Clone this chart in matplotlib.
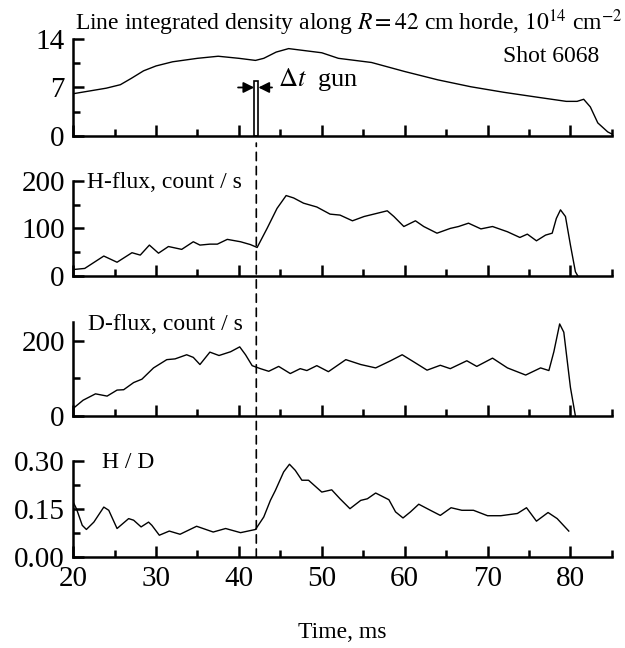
import numpy as np
import matplotlib
matplotlib.use("Agg")
import matplotlib.pyplot as plt
from matplotlib.patches import Rectangle, ConnectionPatch
from matplotlib.ticker import MultipleLocator

plt.rcParams['font.family'] = ['Liberation Serif', 'DejaVu Serif']
plt.rcParams['mathtext.fontset'] = 'stix'

# line integrated density, 1e14 cm^-2
t_dens = [20, 22, 24, 25.7, 27, 28.5, 30, 32, 35, 37.5, 40, 42, 43, 44.5, 46, 48,
          50, 52, 56, 60, 64, 68, 72, 76, 79.5, 80.8, 81.6, 82.4, 83.3, 84.5, 85]
dens = [6.1, 6.5, 6.9, 7.4, 8.3, 9.4, 10.1, 10.7, 11.2, 11.5, 11.2, 10.9, 11.2,
        12.1, 12.6, 12.3, 12.0, 11.2, 10.6, 9.3, 8.1, 7.1, 6.3, 5.6, 5.0, 5.0, 5.3,
        4.2, 1.9, 0.6, 0.3]

# H-flux, count/s
t_h = [20.2, 21.4, 23.7, 25.3, 27.1, 28.1, 29.2, 30.3, 31.5, 33.1, 34.5, 35.3, 36.5,
       37.4, 38.6, 40.2, 41.4, 42.2, 43.4, 44.6, 45.7, 46.6, 47.8, 49.4, 51.0, 52.2,
       53.7, 55.1, 57.9, 58.7, 59.9, 61.3, 62.3, 63.9, 65.5, 66.5, 67.7, 69.2, 70.6,
       72.4, 73.9, 74.8, 75.9, 77.0, 77.8, 78.3, 78.8, 79.4, 80.0, 80.6, 80.9]
h_flux = [14, 16, 42, 29, 49, 44, 65, 48, 62, 56, 72, 65, 67, 67, 77, 72, 66, 60,
          100, 142, 169, 164, 153, 145, 130, 128, 116, 125, 137, 125, 104, 116, 104,
          90, 100, 104, 111, 99, 104, 93, 81, 88, 74, 86, 90, 121, 139, 125, 65, 9, 0]

# D-flux, count/s
t_d = [20.0, 21.2, 22.7, 24.1, 25.3, 26.1, 27.3, 28.3, 29.7, 31.3, 32.3, 33.7, 34.5,
       35.3, 36.5, 37.6, 39.0, 40.1, 40.8, 41.6, 42.6, 43.6, 44.8, 46.2, 47.4, 48.2,
       49.4, 50.8, 52.9, 54.7, 56.5, 58.3, 59.7, 61.1, 62.7, 64.3, 65.5, 67.5, 68.7,
       70.6, 72.4, 74.6, 76.4, 77.4, 78.0, 78.7, 79.2, 80.0, 80.6]
d_flux = [20, 42, 59, 53, 69, 70, 89, 98, 128, 150, 152, 163, 156, 137, 170, 161,
          171, 184, 163, 134, 126, 119, 132, 113, 126, 121, 134, 118, 150, 137, 128,
          147, 163, 144, 122, 135, 126, 147, 132, 154, 128, 109, 128, 121, 171, 245,
          223, 76, 0]

# H/D ratio
t_hd = [20.0, 20.4, 21.1, 21.6, 22.5, 23.7, 24.3, 25.3, 26.7, 27.3, 28.2, 29.1, 29.5,
        30.4, 31.6, 32.9, 34.9, 36.9, 38.4, 40.2, 42.0, 43.0, 43.8, 44.4, 45.4, 46.1,
        46.8, 47.6, 48.4, 50.0, 51.2, 52.2, 53.4, 54.7, 55.5, 56.5, 58.1, 58.9, 59.8,
        60.7, 61.7, 63.1, 64.3, 65.6, 66.9, 68.3, 70.0, 71.6, 73.6, 74.7, 75.9, 77.3,
        78.4, 79.8]
hd = [0.173, 0.152, 0.100, 0.087, 0.110, 0.157, 0.147, 0.090, 0.121, 0.116, 0.095,
      0.110, 0.100, 0.069, 0.082, 0.072, 0.097, 0.079, 0.090, 0.077, 0.087, 0.126,
      0.178, 0.209, 0.267, 0.291, 0.272, 0.241, 0.241, 0.204, 0.211, 0.183, 0.152,
      0.178, 0.183, 0.201, 0.180, 0.142, 0.123, 0.142, 0.166, 0.147, 0.131, 0.155,
      0.147, 0.147, 0.130, 0.130, 0.137, 0.155, 0.113, 0.140, 0.121, 0.082]

t_gun = 42.1

fig = plt.figure(figsize=(6.25, 6.48), dpi=100)
left, width = 0.117, 0.862
ax1 = fig.add_axes([left, 0.790, width, 0.150])
ax2 = fig.add_axes([left, 0.574, width, 0.147])
ax3 = fig.add_axes([left, 0.358, width, 0.145])
ax4 = fig.add_axes([left, 0.140, width, 0.148])
axes = [ax1, ax2, ax3, ax4]

ax1.plot(t_dens, dens, color='k', lw=1.0)
ax2.plot(t_h, h_flux, color='k', lw=1.0)
ax3.plot(t_d, d_flux, color='k', lw=1.0)
ax4.plot(t_hd, hd, color='k', lw=1.0)

ax1.set_ylim(0, 14)
ax1.set_yticks([0, 7, 14])
ax1.yaxis.set_minor_locator(MultipleLocator(3.5))
ax2.set_ylim(0, 200)
ax2.set_yticks([0, 100, 200])
ax2.yaxis.set_minor_locator(MultipleLocator(50))
ax3.set_ylim(0, 250)
ax3.set_yticks([0, 200])
ax3.set_yticks([100], minor=True)
ax4.set_ylim(0, 0.30)
ax4.set_yticks([0, 0.15, 0.30])
ax4.set_yticklabels(['0.00', '0.15', '0.30'])
ax4.yaxis.set_minor_locator(MultipleLocator(0.075))

for ax in axes:
    ax.set_xlim(20, 85)
    ax.xaxis.set_major_locator(MultipleLocator(10))
    ax.xaxis.set_minor_locator(MultipleLocator(5))
    ax.spines['top'].set_visible(False)
    ax.spines['right'].set_visible(False)
    ax.spines['left'].set_linewidth(1.8)
    ax.spines['bottom'].set_linewidth(1.8)
    ax.tick_params(which='both', direction='in', width=1.8, labelsize=21, pad=6)
    ax.tick_params(which='major', length=8)
    ax.tick_params(which='minor', length=5)
    ax.patch.set_alpha(0)
    if ax is not ax4:
        ax.tick_params(axis='x', labelbottom=False)

ax4.set_xticks([20, 30, 40, 50, 60, 70, 80])
ax4.set_xlabel('Time, ms', fontsize=17, labelpad=22)

# texts
fig.text(0.12, 0.954, r'Line integrated density along $R = 42$ cm horde, $10^{14}$ cm$^{-2}$',
         fontsize=17, ha='left', va='baseline')
fig.text(0.959, 0.905, 'Shot 6068', fontsize=17, ha='right', va='baseline')
ax2.text(21.7, 196, 'H-flux, count / s', fontsize=17, va='center', ha='left', clip_on=False)
ax3.text(21.8, 244, 'D-flux, count / s', fontsize=17, va='center', ha='left', clip_on=False)
ax4.text(23.5, 0.297, 'H / D', fontsize=17, va='center', ha='left', clip_on=False)

# gun pulse marker
ax1.add_patch(Rectangle((t_gun - 0.25, 0), 0.5, 7.9, fill=False, lw=1.2, ec='k'))
ax1.annotate('', xy=(t_gun - 0.25, 7.0), xytext=(39.9, 7.0),
             arrowprops=dict(arrowstyle='-|>', color='k', lw=1.3, mutation_scale=16,
                             shrinkA=0, shrinkB=0))
ax1.annotate('', xy=(t_gun + 0.25, 7.0), xytext=(44.0, 7.0),
             arrowprops=dict(arrowstyle='-|>', color='k', lw=1.3, mutation_scale=16,
                             shrinkA=0, shrinkB=0))
ax1.text(44.7, 8.2, r'$\Delta t$  gun', fontsize=19, va='center', ha='left')

con = ConnectionPatch(xyA=(t_gun, 0), coordsA=ax4.transData,
                      xyB=(t_gun, -1.0), coordsB=ax1.transData,
                      color='k', lw=1.2, linestyle=(0, (5, 3.5)))
fig.add_artist(con)

fig.savefig('out.png', dpi=100)
